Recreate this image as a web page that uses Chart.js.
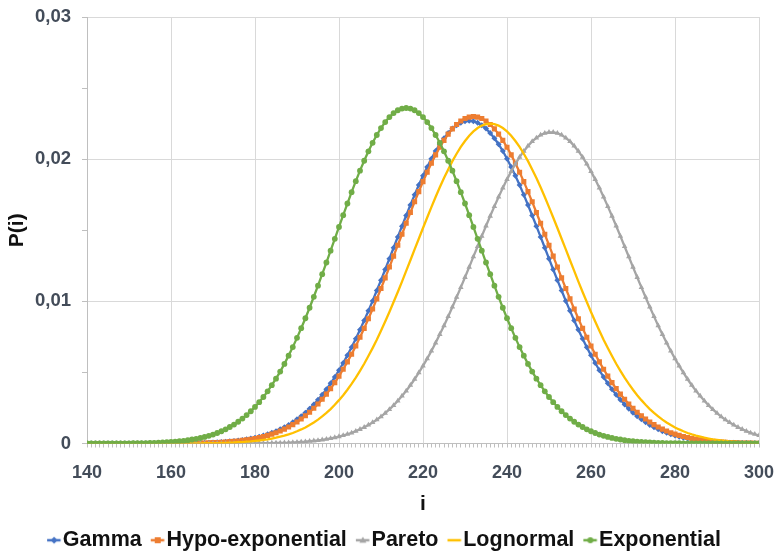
<!DOCTYPE html>
<html><head><meta charset="utf-8">
<script src="https://cdn.jsdelivr.net/npm/chart.js@4.4.0/dist/chart.umd.min.js"></script>
<style>html,body{margin:0;padding:0;background:#fff}#c{display:block}</style>
</head><body>
<canvas id="c" width="775" height="554" style="width:775px;height:554px"></canvas>
<script>
const categories = [140,141,142,143,144,145,146,147,148,149,150,151,152,153,154,155,156,157,158,159,
160,161,162,163,164,165,166,167,168,169,170,171,172,173,174,175,176,177,178,179,
180,181,182,183,184,185,186,187,188,189,190,191,192,193,194,195,196,197,198,199,
200,201,202,203,204,205,206,207,208,209,210,211,212,213,214,215,216,217,218,219,
220,221,222,223,224,225,226,227,228,229,230,231,232,233,234,235,236,237,238,239,
240,241,242,243,244,245,246,247,248,249,250,251,252,253,254,255,256,257,258,259,
260,261,262,263,264,265,266,267,268,269,270,271,272,273,274,275,276,277,278,279,
280,281,282,283,284,285,286,287,288,289,290,291,292,293,294,295,296,297,298,299,300];
const xTickLabels = ['140','160','180','200','220','240','260','280','300'];
const yTickLabels = ['0','0,01','0,02','0,03'];
const seriesNames = ['Gamma','Hypo-exponential','Pareto','Lognormal','Exponential'];

const gamma = [0,0,0,0,0,0,0,0,0,0,0,0,0,0,0,0,0,0,0,0,
0.00001,0.00001,0.00001,0.00002,0.00002,0.00003,0.00003,0.00004,0.00005,0.00006,
0.00007,0.00009,0.00011,0.00013,0.00015,0.00018,0.00021,0.00025,0.0003,0.00035,
0.00041,0.00048,0.00056,0.00065,0.00075,0.00087,0.001,0.00114,0.00131,0.00149,
0.0017,0.00192,0.00217,0.00245,0.00275,0.00307,0.00343,0.00381,0.00423,0.00467,
0.00515,0.00566,0.0062,0.00677,0.00737,0.008,0.00865,0.00933,0.01003,0.01076,
0.01149,0.01224,0.013,0.01377,0.01453,0.01529,0.01604,0.01678,0.01749,0.01818,
0.01883,0.01945,0.02003,0.02057,0.02105,0.02147,0.02184,0.02215,0.02239,0.02256,
0.02267,0.0227,0.02267,0.02256,0.02239,0.02215,0.02184,0.02147,0.02105,0.02057,
0.02003,0.01945,0.01883,0.01818,0.01749,0.01678,0.01604,0.01529,0.01453,0.01377,
0.013,0.01224,0.01149,0.01076,0.01003,0.00933,0.00865,0.008,0.00737,0.00677,
0.0062,0.00566,0.00515,0.00467,0.00423,0.00381,0.00343,0.00307,0.00275,0.00245,
0.00217,0.00192,0.0017,0.00149,0.00131,0.00114,0.001,0.00087,0.00075,0.00065,
0.00056,0.00048,0.00041,0.00035,0.0003,0.00025,0.00021,0.00018,0.00015,0.00013,
0.00011,0.00009,0.00007,0.00006,0.00005,0.00004,0.00003,0.00003,0.00002,0.00002,
0.00001];

const hypoExponential = [0,0,0,0,0,0,0,0,0,0,0,0,0,0,0,0,0,0,0,0,
0.00001,0.00001,0.00001,0.00001,0.00002,0.00002,0.00003,0.00003,0.00004,0.00005,
0.00006,0.00007,0.00009,0.00011,0.00013,0.00015,0.00018,0.00022,0.00026,0.0003,
0.00035,0.00042,0.00049,0.00057,0.00066,0.00076,0.00088,0.00101,0.00116,0.00133,
0.00151,0.00172,0.00195,0.0022,0.00248,0.00278,0.00311,0.00347,0.00386,0.00428,
0.00474,0.00522,0.00574,0.00628,0.00686,0.00747,0.0081,0.00877,0.00946,0.01017,
0.0109,0.01165,0.01241,0.01318,0.01395,0.01472,0.01549,0.01625,0.017,0.01772,
0.01842,0.01908,0.01971,0.0203,0.02084,0.02132,0.02176,0.02213,0.02244,0.02268,
0.02286,0.02296,0.023,0.02296,0.02286,0.02268,0.02244,0.02213,0.02176,0.02132,
0.02084,0.0203,0.01971,0.01908,0.01842,0.01772,0.017,0.01625,0.01549,0.01472,
0.01395,0.01318,0.01241,0.01165,0.0109,0.01017,0.00946,0.00877,0.0081,0.00747,
0.00686,0.00628,0.00574,0.00522,0.00474,0.00428,0.00386,0.00347,0.00311,0.00278,
0.00248,0.0022,0.00195,0.00172,0.00151,0.00133,0.00116,0.00101,0.00088,0.00076,
0.00066,0.00057,0.00049,0.00042,0.00035,0.0003,0.00026,0.00022,0.00018,0.00015,
0.00013,0.00011,0.00009,0.00007,0.00006,0.00005,0.00004,0.00003,0.00003,0.00002,
0.00002];

const pareto = [0,0,0,0,0,0,0,0,0,0,0,0,0,0,0,0,0,0,0,0,
0,0,0,0,0,0,0,0,0,0,
0,0,0,0,0,0,0,0.00001,0.00001,0.00001,
0.00001,0.00002,0.00002,0.00002,0.00003,0.00004,0.00004,0.00005,0.00006,0.00008,
0.00009,0.00011,0.00013,0.00016,0.00019,0.00022,0.00026,0.00031,0.00036,0.00042,
0.00049,0.00057,0.00065,0.00075,0.00087,0.001,0.00114,0.0013,0.00148,0.00167,
0.00189,0.00213,0.0024,0.00268,0.003,0.00334,0.0037,0.0041,0.00452,0.00498,
0.00546,0.00597,0.00651,0.00708,0.00768,0.00829,0.00894,0.0096,0.01029,0.01098,
0.01169,0.01241,0.01314,0.01386,0.01459,0.0153,0.016,0.01668,0.01734,0.01798,
0.01858,0.01914,0.01966,0.02014,0.02056,0.02093,0.02125,0.0215,0.0217,0.02183,
0.02189,0.02189,0.02183,0.0217,0.0215,0.02125,0.02093,0.02056,0.02014,0.01966,
0.01914,0.01858,0.01798,0.01734,0.01668,0.016,0.0153,0.01459,0.01386,0.01314,
0.01241,0.01169,0.01098,0.01029,0.0096,0.00894,0.00829,0.00768,0.00708,0.00651,
0.00597,0.00546,0.00498,0.00452,0.0041,0.0037,0.00334,0.003,0.00268,0.0024,
0.00213,0.00189,0.00167,0.00148,0.0013,0.00114,0.001,0.00087,0.00075,0.00065,
0.00057];

const lognormal = [0,0,0,0,0,0,0,0,0,0,0,0,0,0,0,0,0,0,0,0,
0,0,0,0.00001,0.00001,0.00001,0.00001,0.00001,0.00002,0.00002,
0.00003,0.00003,0.00004,0.00005,0.00006,0.00007,0.00009,0.0001,0.00013,0.00015,
0.00018,0.00021,0.00025,0.00029,0.00035,0.00041,0.00048,0.00055,0.00064,0.00074,
0.00086,0.00099,0.00113,0.0013,0.00148,0.00168,0.00191,0.00215,0.00242,0.00272,
0.00305,0.0034,0.00378,0.00419,0.00463,0.00511,0.00561,0.00615,0.00671,0.0073,
0.00793,0.00858,0.00925,0.00995,0.01066,0.01139,0.01214,0.01289,0.01365,0.0144,
0.01516,0.0159,0.01663,0.01734,0.01802,0.01867,0.01928,0.01986,0.02038,0.02086,
0.02128,0.02165,0.02195,0.02219,0.02236,0.02247,0.0225,0.02247,0.02236,0.02219,
0.02195,0.02165,0.02128,0.02086,0.02038,0.01986,0.01928,0.01867,0.01802,0.01734,
0.01663,0.0159,0.01516,0.0144,0.01365,0.01289,0.01214,0.01139,0.01066,0.00995,
0.00925,0.00858,0.00793,0.0073,0.00671,0.00615,0.00561,0.00511,0.00463,0.00419,
0.00378,0.0034,0.00305,0.00272,0.00242,0.00215,0.00191,0.00168,0.00148,0.0013,
0.00113,0.00099,0.00086,0.00074,0.00064,0.00055,0.00048,0.00041,0.00035,0.00029,
0.00025,0.00021,0.00018,0.00015,0.00013,0.0001,0.00009,0.00007,0.00006,0.00005,
0.00004];

const exponential = [0,0,0,0,0,0,0.00001,0.00001,0.00001,0.00001,
0.00001,0.00002,0.00002,0.00003,0.00003,0.00004,0.00005,0.00006,0.00008,0.00009,
0.00011,0.00013,0.00016,0.00019,0.00023,0.00028,0.00033,0.00039,0.00046,0.00054,
0.00063,0.00074,0.00086,0.001,0.00116,0.00133,0.00153,0.00175,0.002,0.00227,
0.00257,0.00291,0.00327,0.00367,0.0041,0.00456,0.00506,0.0056,0.00618,0.00678,
0.00743,0.00811,0.00881,0.00955,0.01032,0.0111,0.01191,0.01273,0.01356,0.0144,
0.01523,0.01606,0.01688,0.01768,0.01845,0.01919,0.01989,0.02055,0.02115,0.0217,
0.02219,0.02261,0.02296,0.02324,0.02344,0.02356,0.0236,0.02356,0.02344,0.02324,
0.02296,0.02261,0.02219,0.0217,0.02115,0.02055,0.01989,0.01919,0.01845,0.01768,
0.01688,0.01606,0.01523,0.0144,0.01356,0.01273,0.01191,0.0111,0.01032,0.00955,
0.00881,0.00811,0.00743,0.00678,0.00618,0.0056,0.00506,0.00456,0.0041,0.00367,
0.00327,0.00291,0.00257,0.00227,0.002,0.00175,0.00153,0.00133,0.00116,0.001,
0.00086,0.00074,0.00063,0.00054,0.00046,0.00039,0.00033,0.00028,0.00023,0.00019,
0.00016,0.00013,0.00011,0.00009,0.00008,0.00006,0.00005,0.00004,0.00003,0.00003,
0.00002,0.00002,0.00001,0.00001,0.00001,0.00001,0.00001,0,0,0,
0,0,0,0,0,0,0,0,0,0,
0];

const seriesData = [gamma, hypoExponential, pareto, lognormal, exponential];
const colors = ['#4472C4', '#ED7D31', '#A5A5A5', '#FFC000', '#70AD47'];
const markerStyles = ['rectRot', 'rect', 'triangle', false, 'circle'];
const markerRadius = [3, 3.6, 3.2, 0, 2.9];

const FONT = '"Liberation Sans", Arial, sans-serif';
const labelColor = '#434C59';

function makeIcon(color, style) {
  const c = document.createElement('canvas');
  c.width = 30; c.height = 14;
  const g = c.getContext('2d');
  g.strokeStyle = color; g.lineWidth = 2.5;
  g.beginPath(); g.moveTo(15, 7); g.lineTo(28.5, 7); g.stroke();
  g.fillStyle = color;
  const cx = 22, cy = 7;
  if (style === 'circle') { g.beginPath(); g.arc(cx, cy, 3, 0, Math.PI * 2); g.fill(); }
  else if (style === 'rect') { g.fillRect(cx - 3, cy - 3, 6, 6); }
  else if (style === 'rectRot') { g.beginPath(); g.moveTo(cx, cy - 3.5); g.lineTo(cx + 3.5, cy); g.lineTo(cx, cy + 3.5); g.lineTo(cx - 3.5, cy); g.closePath(); g.fill(); }
  else if (style === 'triangle') { g.beginPath(); g.moveTo(cx, cy - 3.5); g.lineTo(cx + 3.5, cy + 2.5); g.lineTo(cx - 3.5, cy + 2.5); g.closePath(); g.fill(); }
  return c;
}
const legendIcons = seriesNames.map((n, k) => makeIcon(colors[k], markerStyles[k]));

const datasets = seriesNames.map((name, k) => ({
  label: name,
  data: seriesData[k],
  borderColor: colors[k],
  backgroundColor: colors[k],
  borderWidth: 2.3,
  pointStyle: markerStyles[k],
  pointRadius: markerRadius[k],
  pointBorderWidth: 0,
  pointBackgroundColor: colors[k],
  tension: 0,
  order: 5 - k
}));

const isMajorX = v => xTickLabels.indexOf(String(v)) >= 0;
const isMajorY = v => Math.abs(v * 100 - Math.round(v * 100)) < 1e-6;

new Chart(document.getElementById('c'), {
  type: 'line',
  data: { labels: categories, datasets },
  options: {
    responsive: false,
    animation: false,
    devicePixelRatio: 1,
    layout: { padding: { left: 4, right: 16, top: 17, bottom: -7 } },
    plugins: {
      tooltip: { enabled: false },
      legend: {
        position: 'bottom',
        labels: {
          usePointStyle: true,
          pointStyleWidth: 10,
          boxHeight: 12,
          padding: 4,
          color: '#111111',
          font: { family: FONT, size: 21.5, weight: 'bold' },
          sort: (a, b) => a.datasetIndex - b.datasetIndex,
          generateLabels: (chart) => {
            const items = Chart.defaults.plugins.legend.labels.generateLabels(chart);
            items.forEach(it => { it.pointStyle = legendIcons[it.datasetIndex]; });
            return items;
          }
        }
      }
    },
    scales: {
      x: {
        type: 'linear',
        min: 140, max: 300,
        afterFit: s => { s.height = 82; s.paddingLeft = 0; s.paddingRight = 0; },
        border: { color: '#BFBFBF', width: 1 },
        grid: {
          color: c => (c.tick && isMajorX(c.tick.value)) ? '#D9D9D9' : 'rgba(0,0,0,0)',
          tickColor: '#BFBFBF',
          tickLength: 4,
          lineWidth: 1
        },
        ticks: {
          stepSize: 1,
          autoSkip: false,
          maxRotation: 0,
          padding: 15,
          color: labelColor,
          font: { family: FONT, size: 18, weight: 'bold' },
          callback: v => isMajorX(v) ? xTickLabels[xTickLabels.indexOf(String(v))] : ''
        },
        title: {
          display: true, text: 'i', color: '#111111',
          font: { family: FONT, size: 21, weight: 'bold' },
          padding: { top: 0, bottom: 9 }
        }
      },
      y: {
        min: 0, max: 0.03,
        afterFit: s => { s.width = 83; s.paddingTop = 0; s.paddingBottom = 0; },
        border: { color: '#BFBFBF', width: 1 },
        grid: {
          color: c => (c.tick && isMajorY(c.tick.value)) ? '#D9D9D9' : 'rgba(0,0,0,0)',
          tickColor: '#BFBFBF',
          tickLength: 5,
          lineWidth: 1
        },
        ticks: {
          stepSize: 0.005,
          padding: 11,
          color: labelColor,
          font: { family: FONT, size: 18.5, weight: 'bold' },
          callback: v => isMajorY(v) ? yTickLabels[Math.round(v * 100)] : ''
        },
        title: {
          display: true, text: 'P(i)', color: '#111111',
          font: { family: FONT, size: 21, weight: 'bold' },
          padding: { top: 1, bottom: 0 }
        }
      }
    }
  }
});
</script>
</body></html>
